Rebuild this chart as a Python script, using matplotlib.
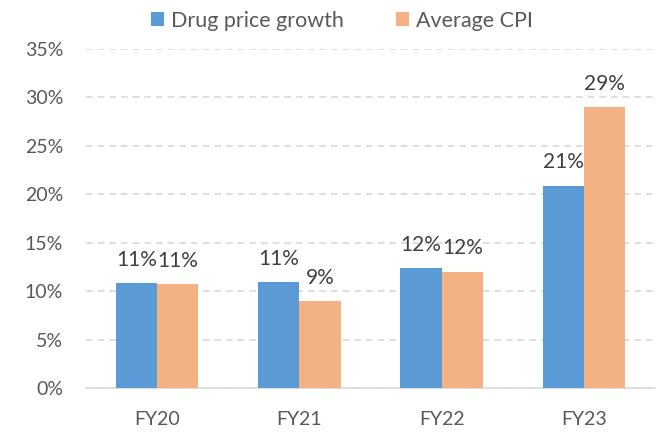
import matplotlib
matplotlib.use("Agg")
import matplotlib.pyplot as plt
import numpy as np

categories = ["FY20", "FY21", "FY22", "FY23"]
drug_price_growth = [10.8, 10.9, 12.4, 20.9]
average_cpi = [10.7, 8.95, 12.0, 29.0]
series_names = ["Drug price growth", "Average CPI"]
yticks = [0, 5, 10, 15, 20, 25, 30, 35]

plt.rcParams['font.family'] = ['Lato', 'DejaVu Sans']
fig = plt.figure(figsize=(6.61, 4.32), dpi=100)
ax = fig.add_axes([86/661, 1-388/432, (655-86)/661, (388-49)/432])

x = np.arange(len(categories))
w = 0.29
c1, c2 = "#5B9BD5", "#F4B183"
b1 = ax.bar(x - w/2, drug_price_growth, w, color=c1, label=series_names[0], zorder=3)
b2 = ax.bar(x + w/2, average_cpi, w, color=c2, label=series_names[1], zorder=3)
for bars, vals in ((b1, drug_price_growth), (b2, average_cpi)):
    for r, v in zip(bars, vals):
        ax.annotate(f"{round(v):.0f}%", (r.get_x() + r.get_width()/2, v),
                    xytext=(0, 12.5), textcoords="offset points",
                    ha="center", va="baseline", fontsize=15, color="#404040")

ax.set_ylim(0, 35)
ax.set_xlim(-0.5, 3.5)
ax.set_yticks(yticks)
ax.set_yticklabels([f"{t}%" for t in yticks])
ax.set_xticks(x)
ax.set_xticklabels(categories)
ax.tick_params(axis='both', length=0, labelsize=14, labelcolor="#595959")
ax.tick_params(axis='x', pad=16.5)
ax.tick_params(axis='y', pad=16.5)
ax.yaxis.grid(True, color="#D9D9D9", linestyle=(0, (4, 3)), linewidth=1.2, zorder=0)
for s in ["top", "right", "left"]:
    ax.spines[s].set_visible(False)
ax.spines["bottom"].set_color("#D9D9D9")
ax.spines["bottom"].set_linewidth(1.2)

fig.legend(loc="upper center", bbox_to_anchor=(342/661, 1.02), ncol=2, frameon=False,
           fontsize=15.5, handlelength=0.62, handleheight=0.62, columnspacing=2.4,
           handletextpad=0.32, labelcolor="#595959")

fig.savefig("out.png", dpi=100)
